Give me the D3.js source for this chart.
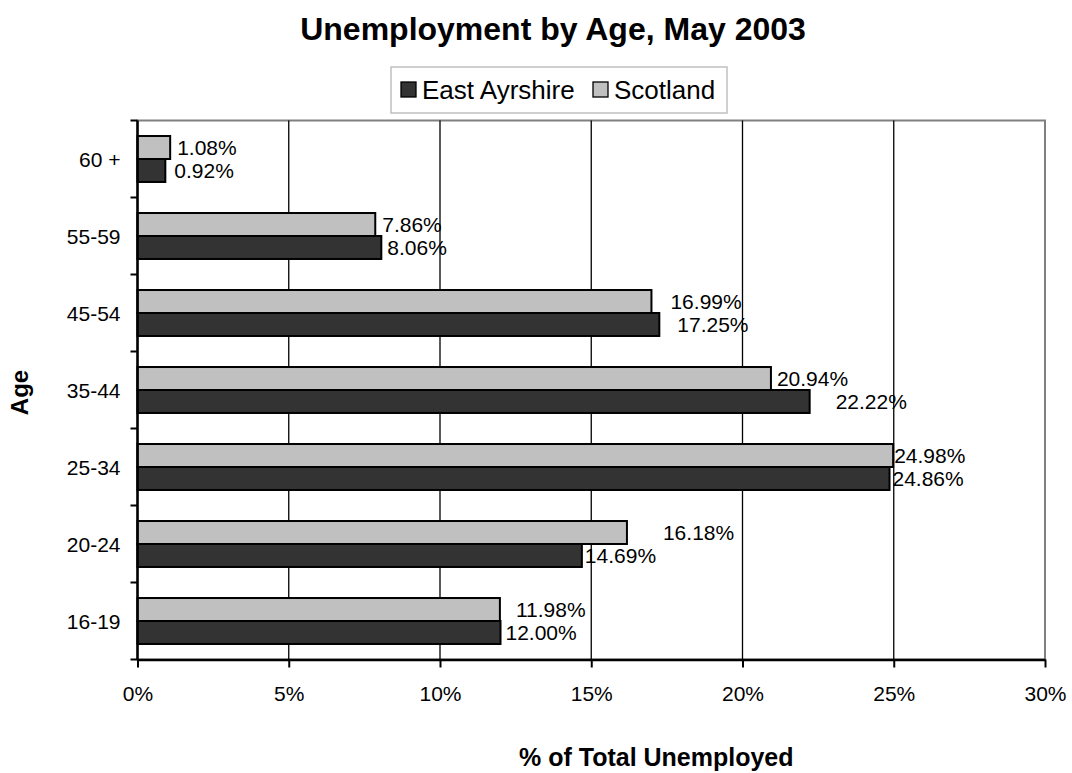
<!DOCTYPE html>
<html><head><meta charset="utf-8">
<script src="https://cdn.jsdelivr.net/npm/d3@7"></script>
<style>
body{margin:0;background:#fff;overflow:hidden;}
text{font-family:"Liberation Sans",Arial,sans-serif;}
</style></head>
<body>
<svg id="c" width="1072" height="773"></svg>
<script>
const categories = ["60 +","55-59","45-54","35-44","25-34","20-24","16-19"];
const eastAyrshire = [0.92, 8.06, 17.25, 22.22, 24.86, 14.69, 12.00];
const scotland = [1.08, 7.86, 16.99, 20.94, 24.98, 16.18, 11.98];
const seriesNames = ["East Ayrshire","Scotland"];
const xTicks = [0,5,10,15,20,25,30];
// manual label nudges (px) as placed in the original chart
const labelNudgeScot = [7,7,19,6,1,36,16];
const labelNudgeEA = [9,6,18,26,3,3,5];

const svg = d3.select("#c");
const m = {left:137.5, right:1045, top:120.5, bottom:659.5};
const x = d3.scaleLinear().domain([0,30]).range([m.left, m.right]);
const y = d3.scaleBand().domain(categories).range([m.top, m.bottom]).paddingInner(0.403).paddingOuter(0.2015);
const sub = d3.scaleBand().domain(["Scotland","East Ayrshire"]).range([0, y.bandwidth()]);
const colors = {"East Ayrshire":"#333333","Scotland":"#c0c0c0"};

// title
svg.append("text").attr("x",553).attr("y",40).attr("text-anchor","middle")
  .attr("font-size",32).attr("font-weight","bold").text("Unemployment by Age, May 2003");

// plot border (top/right)
svg.append("rect").attr("x",m.left).attr("y",m.top).attr("width",m.right-m.left).attr("height",m.bottom-m.top)
  .attr("fill","none").attr("stroke","#808080").attr("stroke-width",2);

// gridlines
svg.append("g").selectAll("line").data(xTicks.filter(d=>d>0 && d<30)).join("line")
  .attr("x1",d=>x(d)).attr("x2",d=>x(d)).attr("y1",m.top).attr("y2",m.bottom)
  .attr("stroke","#000").attr("stroke-width",1.3);

// bars
const rows = categories.map((c,i)=>({c, ea:eastAyrshire[i], sc:scotland[i], i}));
const g = svg.append("g");
rows.forEach(r=>{
  [["Scotland",r.sc,labelNudgeScot[r.i]],["East Ayrshire",r.ea,labelNudgeEA[r.i]]].forEach(([s,v,n])=>{
    const yy = y(r.c)+sub(s);
    g.append("rect").attr("x",x(0)).attr("y",yy).attr("width",x(v)-x(0)).attr("height",sub.bandwidth())
      .attr("fill",colors[s]).attr("stroke","#000").attr("stroke-width",2);
    g.append("text").attr("x",x(v)+n).attr("y",yy+sub.bandwidth()/2).attr("dy","0.36em")
      .attr("font-size",21).attr("fill","#000").text(v.toFixed(2)+"%");
  });
});

// x axis
const xa = svg.append("g").attr("transform",`translate(0,${m.bottom})`)
  .call(d3.axisBottom(x).tickValues(xTicks).tickFormat(d=>d+"%").tickSize(8).tickSizeOuter(0).tickPadding(19));
xa.select(".domain").attr("stroke","#000").attr("stroke-width",2.5);
xa.selectAll(".tick line").attr("stroke","#000").attr("stroke-width",2);
xa.selectAll("text").attr("font-size",21).attr("font-family","Liberation Sans, Arial, sans-serif").attr("fill","#000");

// y axis
const ya = svg.append("g").attr("transform",`translate(${m.left},0)`);
ya.append("line").attr("x1",0).attr("x2",0).attr("y1",m.top).attr("y2",m.bottom).attr("stroke","#000").attr("stroke-width",2.5);
const bounds = categories.map(c=>y(c)-y.step()*y.paddingInner()/2).concat([m.bottom]);
ya.selectAll("line.t").data(bounds).join("line").attr("class","t")
  .attr("x1",-7).attr("x2",0).attr("y1",d=>d).attr("y2",d=>d).attr("stroke","#000").attr("stroke-width",2);
ya.selectAll("text").data(categories).join("text")
  .attr("x",-17).attr("y",d=>y(d)+y.bandwidth()/2).attr("dy","0.36em").attr("text-anchor","end")
  .attr("font-size",21).text(d=>d);

// axis titles
svg.append("text").attr("x",519).attr("y",766).attr("text-anchor","start")
  .attr("font-size",25).attr("font-weight","bold").text("% of Total Unemployed");
svg.append("text").attr("transform","translate(27.5,392.5) rotate(-90)").attr("text-anchor","middle")
  .attr("font-size",24).attr("font-weight","bold").text("Age");

// legend
const lg = svg.append("g");
lg.append("rect").attr("x",391).attr("y",67).attr("width",336).attr("height",46)
  .attr("fill","#fff").attr("stroke","#c0c0c0").attr("stroke-width",1.5);
const legendX = [401, 593];
seriesNames.forEach((s,i)=>{
  const xs = legendX[i];
  lg.append("rect").attr("x",xs).attr("y",82).attr("width",15).attr("height",15)
    .attr("fill",colors[s]).attr("stroke","#000").attr("stroke-width",1.3);
  lg.append("text").attr("x",xs+21).attr("y",99).attr("font-size",26).text(s);
});
</script>
</body></html>
